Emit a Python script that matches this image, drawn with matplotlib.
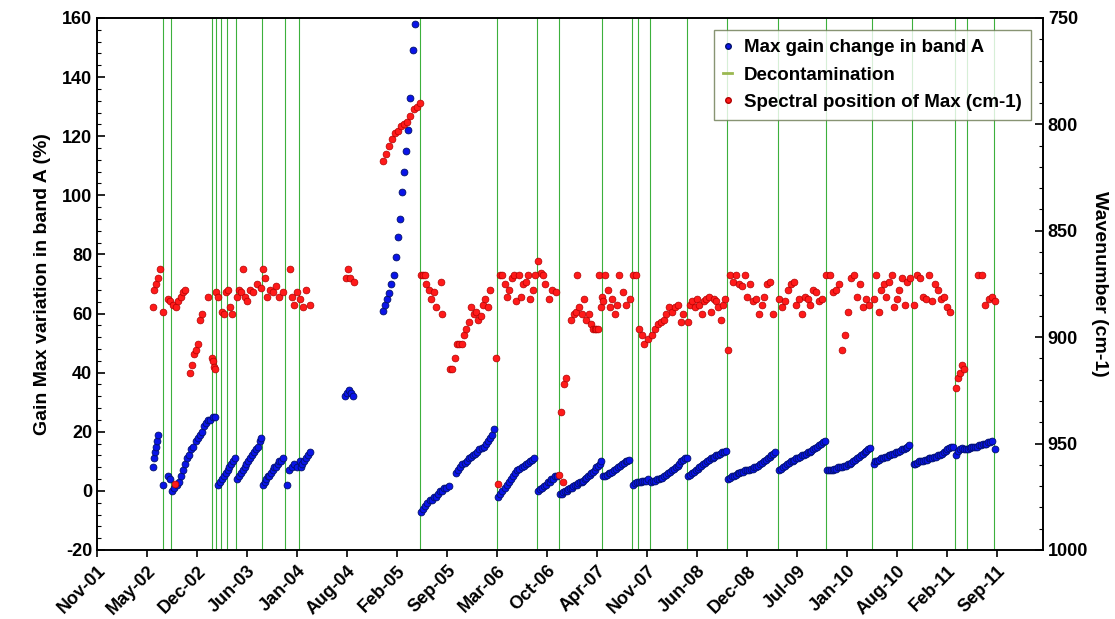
import matplotlib
matplotlib.use("Agg")
import matplotlib.pyplot as plt
from matplotlib.lines import Line2D
from matplotlib.ticker import MultipleLocator
from matplotlib.font_manager import FontProperties

plt.rcParams['font.family'] = ['Liberation Sans', 'DejaVu Sans']
plt.rcParams['font.weight'] = 'bold'
plt.rcParams['axes.labelweight'] = 'bold'
plt.rcParams['axes.unicode_minus'] = False

tick_labels = ["Nov-01","May-02","Dec-02","Jun-03","Jan-04","Aug-04","Feb-05","Sep-05","Mar-06",
               "Oct-06","Apr-07","Nov-07","Jun-08","Dec-08","Jul-09","Jan-10","Aug-10","Feb-11","Sep-11"]
tick_step = 212.5  # days between labelled ticks (x in days since 1 Nov 2001)

decon_days = [280, 315, 489, 506, 527, 552, 591, 701, 799, 858, 1373, 1700, 1870, 1963, 2146,
              2274, 2299, 2350, 2507, 2677, 2894, 3098, 3294, 3464, 3646, 3697, 3812]

# blue segments: (start day, step days, values in %)
blue_segments = [
    (238, 4, [8, 11, 13, 15, 17, 19]),
    (280, 1, [2]),
    (302, 9, [5, 4, 0, 1, 2, 3, 5, 7, 9, 11, 12, 14, 15, 17, 18, 19, 20, 22, 23, 24, 24, 25, 25]),
    (515, 8, [2, 3, 4, 5, 6, 7, 8, 9, 10, 11]),
    (595, 8, [4, 5, 6, 7, 8, 9, 10, 11, 12, 13, 14, 15, 17, 18]),
    (705, 7, [2, 3, 4, 5, 5, 6, 7, 8, 8, 9, 10, 10, 11]),
    (808, 1, [2]),
    (815, 12, [7, 8, 9, 8, 10]),
    (865, 8, [8, 9, 10, 11, 12, 13]),
    (1054, 8, [32, 33, 34, 33, 32]),
    (1215, 9, [61, 63, 65, 67, 70, 73, 79, 86, 92, 101, 108, 115, 122, 133, 149, 158]),
    (1377, 9, [-7, -6, -5, -4, -3, -3, -2, -2, -1, 0, 0, 1, 1, 1.5]),
    (1526, 9, [6, 7, 8, 9, 9.5, 10, 11, 11.5, 12, 12.5, 13, 14, 14.5, 15, 16, 17, 18, 19, 21]),
    (1705, 9, [-2, -1, 0, 1, 2, 3, 4, 5, 6, 7, 7.5, 8, 8.5, 9, 9.5, 10, 10.5, 11]),
    (1875, 8, [0, 0.5, 1, 1.5, 2, 3, 3, 4, 4, 5, 5]),
    (1968, 7, [-1, -1, -0.5, 0, 0, 0.5, 1, 1, 1.5, 2, 2, 2.5, 3, 3, 3.5, 4, 4.5, 5, 5.5, 6,
               6.5, 7, 8, 8.5, 9, 10]),
    (2150, 8, [5, 5, 5.5, 6, 6, 6.5, 7, 7.5, 8, 8.5, 9, 9.5, 10, 10, 10.5]),
    (2278, 8, [2, 2.5, 3]),
    (2302, 8, [3, 3, 3.5, 3.5, 3.5, 4]),
    (2355, 8, [3, 3.5, 3.5, 4, 4, 4.5, 4.5, 5, 5.5, 6, 6.5, 7, 7.5, 8, 8.5, 9, 10, 10.5, 11, 11]),
    (2512, 8, [5, 5.5, 6, 6.5, 7, 7.5, 8, 8.5, 9, 9.5, 10, 10.5, 11, 11, 11.5, 12, 12, 12.5,
               13, 13, 13.5]),
    (2682, 8, [4, 4.5, 5, 5, 5.5, 6, 6, 6.5, 6.5, 7, 7, 7, 7.5, 7.5, 8, 8, 8.5, 9, 9.5, 10,
               10.5, 11, 11.5, 12, 12.5, 13]),
    (2900, 8, [7, 7.5, 8, 8.5, 9, 9.5, 10, 10, 10.5, 11, 11, 11.5, 12, 12, 12.5, 13, 13, 13.5,
               14, 14.5, 15, 15.5, 16, 16.5, 17]),
    (3102, 8, [7, 7, 7, 7, 7.5, 7.5, 8, 8, 8, 8.5, 8.5, 9, 9, 9.5, 10, 10.5, 11, 11.5, 12,
               12.5, 13, 13.5, 14, 14.5]),
    (3300, 8, [9, 10, 10, 10.5, 11, 11, 11.5, 11.5, 12, 12, 12.5, 12.5, 13, 13, 13.5, 14, 14,
               14.5, 15, 15.5]),
    (3470, 8, [9, 9, 9.5, 10, 10, 10, 10.5, 10.5, 11, 11, 11, 11.5, 11.5, 12, 12, 12.5, 13,
               13.5, 14, 14.5, 15, 15]),
    (3652, 8, [12, 13.5, 14, 14.5, 14, 14]),
    (3700, 8, [14, 14.5, 15, 15, 15, 15, 15.5, 15.5, 16, 16, 16, 16.5, 16.5, 17]),
    (3818, 1, [14]),
]

red_days = [238, 242, 251, 259, 268, 280,
            302, 312, 323, 334, 344, 355, 366, 376, 332,
            395, 404, 412, 421, 429, 438, 446, 472,
            489, 493, 497, 502, 506, 514,
            531, 540, 548, 557, 565, 574,
            595, 604, 612, 620, 629, 638, 650, 663, 680, 695,
            705, 713, 722, 735, 748, 760, 775, 790,
            820, 830, 838, 850, 862, 875, 888, 905,
            1058, 1066, 1075, 1092]
red_vals = [886, 878, 875, 872, 868, 888,
            882, 883, 885, 886, 883, 881, 879, 878, 969,
            917, 913, 908, 906, 903, 892, 889, 881,
            910, 911, 914, 915, 879, 881,
            888, 889, 879, 878, 886, 889,
            881, 878, 879, 868, 881, 883, 878, 879, 875, 877,
            868, 872, 881, 878, 879, 876, 881, 879,
            868, 881, 885, 879, 882, 886, 878, 885,
            872, 868, 872, 874]
red_runs = [
    (1215, 13, [817, 814, 810, 807, 804, 803, 801, 800, 799, 796, 793, 792, 790]),
    (1500, 10, [915, 915, 910, 903, 903, 903, 899, 896, 893, 886, 889, 888, 892, 890, 885, 882, 886, 878]),
    (1712, 10, [871, 871, 875, 881, 878, 872, 871, 883, 871, 881, 875, 874, 871, 882, 878, 871]),
    (2360, 12, [899, 896, 894, 893, 892, 889, 886, 888, 886, 885, 893, 889]),
    (2510, 10, [893, 885, 883, 886, 882, 885, 889, 883, 882, 881, 888, 882, 883, 886, 892, 885, 882]),
    (2680, 12, [906, 871, 874, 871, 875, 876, 871, 881, 875, 883, 882, 889, 885, 881, 875, 874, 889]),
    (2900, 12, [882, 886, 883, 878, 875, 874, 885, 882, 889, 881, 882, 885, 878, 879, 883, 882]),
    (3100, 13, [871, 871, 879, 878, 875, 906, 899, 888, 872, 871, 881, 875, 886, 882, 885]),
    (3300, 11, [882, 871, 888, 878, 875, 881, 874, 871, 886, 882, 878, 872, 885, 874, 872]),
    (3470, 13, [885, 871, 872, 881, 882, 871, 883, 875, 878, 882, 881, 886, 888]),
]
red_days2 = [1378, 1385, 1392, 1400, 1410, 1420, 1430, 1440, 1460, 1466, 1695, 1702,
             1875, 1885, 1895, 1905, 1920, 1935, 1950,
             1965, 1980, 1970, 1985, 1995, 2015, 2025, 2035, 2040, 2050, 2060, 2070, 2080,
             2090, 2100, 2108, 2115, 2122, 2130, 2135, 2140, 2145, 2150,
             2160, 2170, 2180, 2190, 2200, 2210, 2220, 2235, 2250, 2265,
             2278, 2290, 2305, 2315, 2325, 2340,
             3652, 3660, 3668, 3676, 3685,
             3745, 3760, 3775, 3790, 3805, 3815]
red_vals2 = [871, 871, 871, 875, 878, 882, 879, 886, 874, 889, 910, 969,
             864, 870, 871, 875, 882, 878, 879,
             965, 968, 935, 922, 919, 892, 889, 888, 871, 886, 889, 882, 892,
             889, 894, 896, 896, 896, 896, 871, 886, 881, 883,
             871, 878, 886, 882, 889, 885, 871, 879, 885, 882,
             871, 871, 896, 899, 903, 901,
             924, 919, 917, 913, 915,
             871, 871, 885, 882, 881, 883]

BLUE, BLUE_E = '#0a14e8', '#00106a'
RED, RED_E = '#ff1a1a', '#b00000'

fig = plt.figure(figsize=(11.15, 6.19), dpi=100)
ax = fig.add_axes([0.087, 0.1115, 0.8484, 0.8595])
ax2 = ax.twinx()

for d in decon_days:
    ax.axvline(d, color='#3cb03c', lw=0.8, zorder=1)

bx, by = [], []
for s, st, vals in blue_segments:
    for i, v in enumerate(vals):
        bx.append(s + i * st); by.append(v)
ax.scatter(bx, by, s=24, color=BLUE, edgecolors=BLUE_E, linewidths=0.6, zorder=3)

rx, ry = list(red_days) + list(red_days2), list(red_vals) + list(red_vals2)
for s, st, vals in red_runs:
    for i, v in enumerate(vals):
        rx.append(s + i * st); ry.append(v)
ax2.scatter(rx, ry, s=24, color=RED, edgecolors=RED_E, linewidths=0.5, zorder=3)

ax.set_xlim(0, 4020)
ax.set_ylim(-20, 160)
ax.set_yticks(range(-20, 161, 20))
ax.yaxis.set_minor_locator(MultipleLocator(4))
ax2.set_ylim(1000, 750)
ax2.set_yticks(range(750, 1001, 50))
ax2.yaxis.set_minor_locator(MultipleLocator(10))
ax.set_xticks([i * tick_step for i in range(len(tick_labels))])
ax.set_xticklabels(tick_labels, rotation=45, ha='right', rotation_mode='anchor')
ax.tick_params(axis='x', direction='out', length=5, width=1.2, labelsize=13, pad=4)
ax.tick_params(axis='y', which='major', direction='in', length=6, width=1.2, labelsize=13)
ax.tick_params(axis='y', which='minor', direction='in', length=3, width=0.8)
ax2.tick_params(axis='y', which='major', direction='in', length=6, width=1.2, labelsize=13)
ax2.tick_params(axis='y', which='minor', direction='in', length=3, width=0.8)
for a in (ax, ax2):
    for lab in a.get_xticklabels() + a.get_yticklabels():
        lab.set_fontweight('bold')
    for sp in a.spines.values():
        sp.set_linewidth(1.2)

lab_fp = FontProperties(family='Liberation Sans', weight='bold', size=14)
ax.set_ylabel("Gain Max variation in band A (%)", fontproperties=lab_fp, labelpad=8)
ax2.set_ylabel("Wavenumber (cm-1)", fontproperties=lab_fp, rotation=270, labelpad=14)

handles = [
    Line2D([], [], marker='o', ls='none', color=BLUE, markeredgecolor=BLUE_E, markersize=4),
    Line2D([], [], color='#9ab850', lw=2),
    Line2D([], [], marker='o', ls='none', color=RED, markeredgecolor=RED_E, markersize=4),
]
leg = ax.legend(handles, ["Max gain change in band A", "Decontamination", "Spectral position of Max (cm-1)"],
                loc='upper right', bbox_to_anchor=(0.987, 0.978), prop={'size': 13.5, 'weight': 'bold'},
                frameon=True, fancybox=False, edgecolor='#6b7a50', handlelength=0.5,
                handletextpad=0.6, borderpad=0.5, labelspacing=0.55, borderaxespad=0)
leg.get_frame().set_linewidth(1.0)
leg.set_zorder(5)

fig.savefig("out.png", dpi=100)
